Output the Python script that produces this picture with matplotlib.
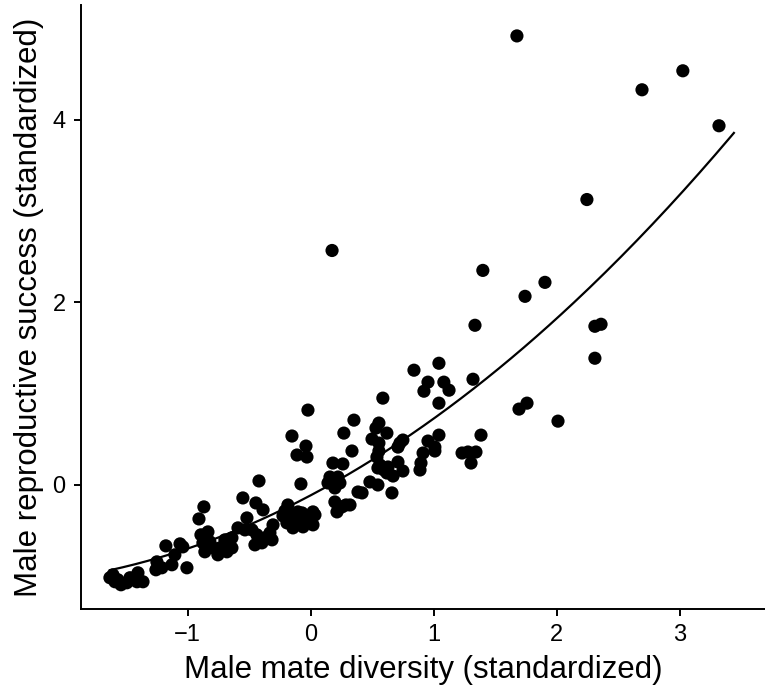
import numpy as np
import matplotlib
matplotlib.use("Agg")
import matplotlib.pyplot as plt

plt.rcParams['font.family'] = ['Liberation Sans', 'DejaVu Sans']

# Male mate diversity (standardized)
diversity = [
    -1.607, -1.567, -1.591, -1.542, -1.494, -1.469, -1.404, -1.412, -1.363, -1.632,
    -1.258, -1.250, -1.210, -1.177, -1.128, -1.104, -1.062, -1.039, -1.006,
    -0.868, -0.908, -0.835, -0.892, -0.876, -0.819, -0.795, -0.860, -0.737, -0.681, -0.754, -0.697,
    -0.640, -0.640, -0.551, -0.445, -0.387, -0.518, -0.420, -0.591, -0.534, -0.477, -0.437,
    -0.372, -0.331, -0.396, -0.453, -0.314, -0.306,
    -0.185, -0.209, -0.225, -0.168, -0.103, -0.070, 0.019, -0.120, -0.193, -0.144, -0.062,
    0.019, -0.005, -0.047, 0.035,
    0.197, 0.255, 0.320, 0.214, 0.385, 0.482, 0.287,
    -0.152, -0.038, -0.111, -0.030, -0.079, -0.022, 0.270, 0.336, 0.352,
    0.181, 0.262, 0.157, 0.222, 0.141, 0.238, 0.197,
    0.174, 0.547, 0.661, 0.418, 0.587, 0.555, 0.531, 0.620, 0.499, 0.555, 0.726, 0.750,
    0.710, 0.555, 0.539, 0.547, 0.629, 0.620, 0.710, 0.750, 0.670, 0.564, 0.596,
    0.840, 0.954, 0.921, 1.043, 1.083, 1.125, 1.043, 1.320, 1.336, 0.954, 1.010, 1.010,
    0.914, 0.897, 0.889, 1.043, 1.385, 1.231, 1.279, 1.344, 1.304, 1.694, 1.759, 2.011,
    1.400, 1.905, 1.743, 2.311, 2.361, 2.311, 2.246, 1.677, 2.694, 3.026, 3.320,
]

# Male reproductive success (standardized)
success = [
    -0.984, -1.038, -1.060, -1.093, -1.071, -1.016, -0.962, -1.060, -1.060, -1.016,
    -0.929, -0.842, -0.907, -0.667, -0.874, -0.765, -0.645, -0.678, -0.907,
    -0.240, -0.372, -0.514, -0.546, -0.634, -0.623, -0.689, -0.732, -0.689, -0.732, -0.765, -0.601,
    -0.579, -0.689, -0.142, -0.197, -0.273, -0.361, 0.044, -0.470, -0.492, -0.492, -0.546,
    -0.579, -0.525, -0.634, -0.656, -0.601, -0.437,
    -0.219, -0.284, -0.339, -0.328, -0.295, -0.306, -0.295, -0.404, -0.415, -0.470, -0.459,
    -0.437, -0.361, -0.404, -0.328,
    -0.186, -0.240, -0.219, -0.295, -0.077, 0.033, -0.219,
    0.536, 0.426, 0.328, 0.306, 0.011, 0.820, 0.568, 0.372, 0.710,
    0.240, 0.230, 0.087, 0.087, 0.022, 0.022, -0.033,
    2.568, 0.000, -0.087, -0.087, 0.951, 0.678, 0.623, 0.568, 0.503, 0.459, 0.459, 0.492,
    0.415, 0.372, 0.306, 0.186, 0.197, 0.131, 0.251, 0.153, 0.098, 0.219, 0.164,
    1.257, 1.126, 1.027, 1.333, 1.126, 1.038, 0.896, 1.158, 1.749, 0.481, 0.415, 0.372,
    0.350, 0.240, 0.164, 0.546, 0.546, 0.350, 0.361, 0.361, 0.240, 0.831, 0.896, 0.699,
    2.350, 2.219, 2.066, 1.738, 1.760, 1.388, 3.126, 4.918, 4.328, 4.536, 3.934,
]

# Fitted trend
curve_x = [-1.063, -0.981, -0.087, 0.128, 0.157, 1.677, 1.783, 3.441]
curve_y = [-0.712, -0.679, -0.186, -0.036, -0.022, 1.479, 1.566, 3.844]

x_ticks = [-1, 0, 1, 2, 3]
y_ticks = [0, 2, 4]
x_label = "Male mate diversity (standardized)"
y_label = "Male reproductive success (standardized)"

x = np.array(diversity)
y = np.array(success)

fig = plt.figure(figsize=(7.65, 6.99), dpi=100)
ax = fig.add_axes([0.1059, 0.1288, 0.8941, 0.8641])

ax.scatter(x, y, s=90, color='black', edgecolors='none', zorder=2)

coef = np.polyfit(curve_x, curve_y, 2)
xs = np.linspace(x.min(), max(curve_x), 200)
ax.plot(xs, np.polyval(coef, xs), color='black', lw=1.6, zorder=3)

ax.set_xlim(-1.867, 3.694)
ax.set_ylim(-1.358, 5.257)
ax.set_xticks(x_ticks)
ax.set_xticklabels(["\u2212" + str(abs(t)) if t < 0 else str(t) for t in x_ticks])
ax.set_yticks(y_ticks)

for s in ['top', 'right']:
    ax.spines[s].set_visible(False)
for s in ['left', 'bottom']:
    ax.spines[s].set_linewidth(1.4)
ax.tick_params(axis='both', length=5, width=1.4, labelsize=17, colors='black')
ax.tick_params(axis='x', pad=6)
ax.tick_params(axis='y', pad=6)

ax.set_xlabel(x_label, fontsize=22.5, labelpad=6)
ax.set_ylabel(y_label, fontsize=22.5, labelpad=6)

fig.savefig("out.png", dpi=100)
